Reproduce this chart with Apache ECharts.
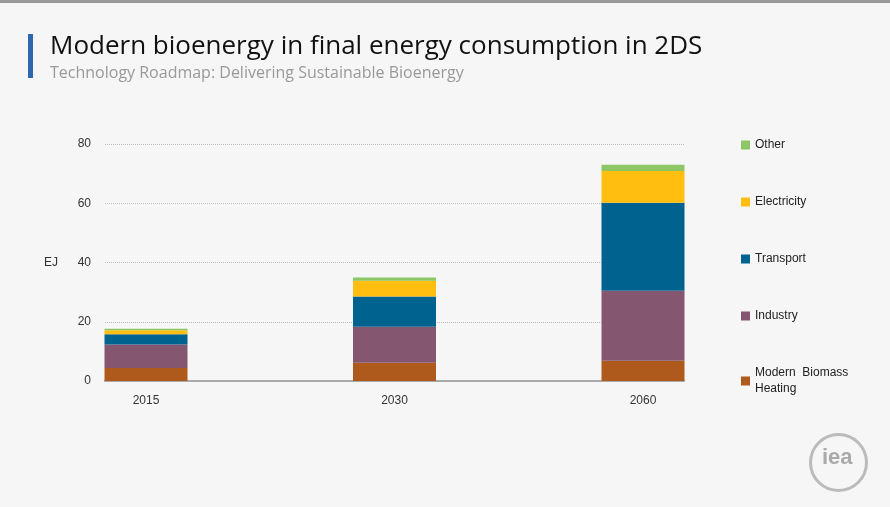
<!DOCTYPE html>
<html><head><meta charset="utf-8">
<script src="https://cdn.jsdelivr.net/npm/echarts@6/dist/echarts.min.js"></script>
<style>html,body{margin:0;padding:0;background:#f6f6f6}#c{width:890px;height:507px}</style>
</head><body><div id="c"></div>
<script>
const categories = ['2015','2030','2060'];
const heating = [4.4, 6.2, 6.8];
const industry = [7.9, 12.1, 23.7];
const transport = [3.5, 10.2, 29.7];
const electricity = [1.3, 5.3, 10.7];
const other = [0.5, 1.1, 2.1];
const yTicks = [0, 20, 40, 60, 80];

const chart = echarts.init(document.getElementById('c'));
const mk = (name, data, color) => ({name, type:'bar', stack:'s', data, barWidth:83, itemStyle:{color}, xAxisIndex:0, yAxisIndex:0});
chart.setOption({
  backgroundColor:'#f6f6f6',
  textStyle:{fontFamily:'Arial, Liberation Sans'},
  title:[{text:'Modern bioenergy in final energy consumption in 2DS', left:45, top:29,
    textStyle:{fontFamily:'Open Sans', fontSize:26, fontWeight:'normal', color:'#111'}},
    {text:'Technology Roadmap: Delivering Sustainable Bioenergy', left:45, top:60,
    textStyle:{fontFamily:'Open Sans', fontSize:16, fontWeight:'normal', color:'#999'}}],
  graphic:[
    {type:'rect', left:0, top:0, shape:{width:890, height:3}, style:{fill:'#999'}},
    {type:'rect', left:28, top:34, shape:{width:5, height:44}, style:{fill:'#2f66b0'}},
    {type:'circle', left:808, top:432, shape:{r:28}, style:{fill:'none', stroke:'#bbb', lineWidth:3}},
    {type:'text', left:822, top:447, style:{text:'iea', font:'bold 22px Arial', fill:'#aaa'}}
  ],
  grid:[{left:146, right:247, top:144, bottom:126},{left:105, right:206, top:144, bottom:126}],
  legend:{orient:'vertical', left:736, top:132, itemGap:41, itemWidth:9, itemHeight:9, icon:'rect',
    data:['Other','Electricity','Transport','Industry','Modern Biomass Heating'],
    formatter: n => n === 'Modern Biomass Heating' ? 'Modern  Biomass\nHeating' : n,
    textStyle:{fontSize:12, color:'#222', lineHeight:16}},
  xAxis:[{type:'category', gridIndex:0, data:categories, boundaryGap:false, axisTick:{show:false},
    axisLine:{show:false}, axisLabel:{color:'#333', fontSize:12, margin:14}},
    {type:'value', gridIndex:1, min:0, max:1, axisTick:{show:false}, axisLabel:{show:false}, splitLine:{show:false},
    axisLine:{show:true, lineStyle:{color:'#aaa', width:2}}}],
  yAxis:[{type:'value', gridIndex:0, min:0, max:80, interval:20, show:false, splitLine:{show:false}},
    {type:'value', gridIndex:1, min:0, max:80, interval:20, name:'EJ', nameLocation:'middle', nameGap:47, nameRotate:0,
    axisLine:{show:false}, axisTick:{show:false},
    nameTextStyle:{color:'#333', fontSize:12}, axisLabel:{color:'#333', fontSize:12, margin:14,
    formatter: v => yTicks.includes(v) ? String(v) : ''},
    splitLine:{lineStyle:{type:'dotted', color:'#bbb'}}}],
  series:[
    mk('Modern Biomass Heating', heating, '#ad5a1c'),
    mk('Industry', industry, '#855670'),
    mk('Transport', transport, '#00628f'),
    mk('Electricity', electricity, '#ffbe10'),
    mk('Other', other, '#8cc665')
  ]
});
</script></body></html>
